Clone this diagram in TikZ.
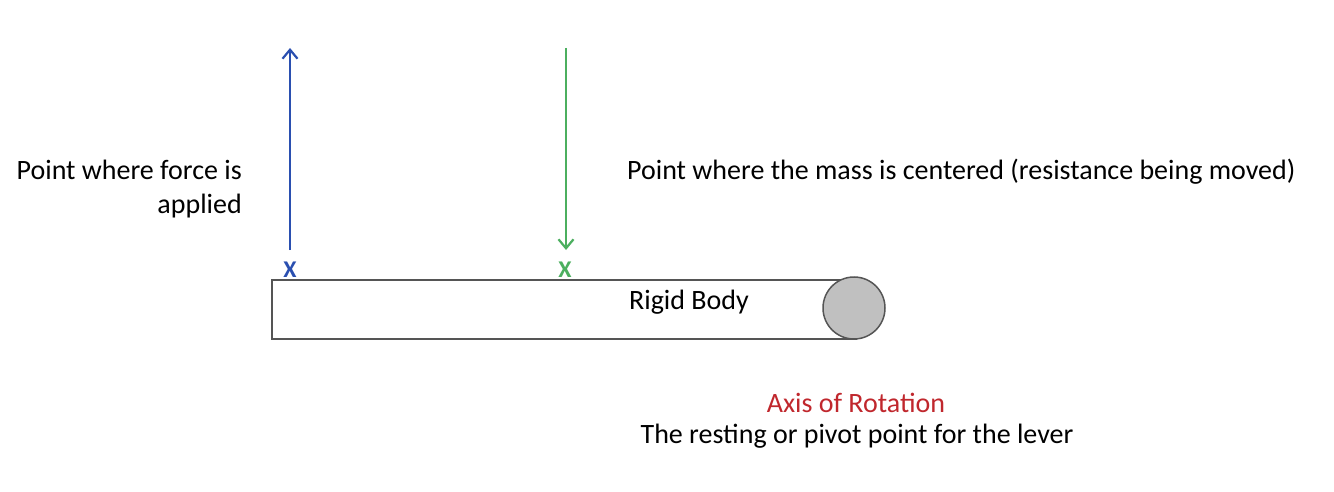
\documentclass[tikz,border=0pt]{standalone}
\usepackage{fontspec}
\setmainfont{Carlito}
\usetikzlibrary{arrows.meta}
\definecolor{fblue}{HTML}{2A4FB0}
\definecolor{fgreen}{HTML}{4CAF5F}
\definecolor{axred}{HTML}{C0272D}
\definecolor{edgegray}{HTML}{555555}
\definecolor{pivotgray}{HTML}{C0C0C0}
\tikzset{
  lbl/.style={inner sep=0pt, font=\fontsize{28}{34}\selectfont},
  forcearrow/.style={line width=2.2pt, -{Straight Barb[length=9pt,width=15pt,line width=2.2pt]}},
  xmark/.style={inner sep=0pt, font=\fontsize{24}{24}\selectfont\bfseries},
}
\begin{document}
\begin{tikzpicture}[x=1pt,y=-1pt]
\useasboundingbox (0,0) rectangle (1334,492);
\node[draw=edgegray, line width=1.5pt, minimum width=584pt, minimum height=59pt, inner sep=0pt, anchor=north west] (body) at (271,279) {};
\node[circle, draw=edgegray, fill=pivotgray, line width=1.5pt, minimum size=62pt, inner sep=0pt] (pivot) at (854,308) {};
\node[lbl] (rb) at (689,302) {Rigid Body};
\node[xmark, text=fblue] (xb) at (290,270) {X};
\node[xmark, text=fgreen] (xg) at (565,270) {X};
\coordinate (bbot) at (290,250);
\coordinate (btop) at (290,48);
\coordinate (gtop) at (566,48);
\coordinate (gbot) at (566,250);
\draw[forcearrow, fblue] (bbot) -- (btop);
\draw[forcearrow, fgreen] (gtop) -- (gbot);
\node[lbl, anchor=east, align=right] (force) at (242,189) {Point where force is\\applied};
\node[lbl, anchor=west] (mass) at (627,172) {Point where the mass is centered (resistance being moved)};
\node[lbl, text=axred] (axis) at (856,403) {Axis of Rotation};
\node[lbl] (rest) at (857,436) {The resting or pivot point for the lever};
\end{tikzpicture}
\end{document}
